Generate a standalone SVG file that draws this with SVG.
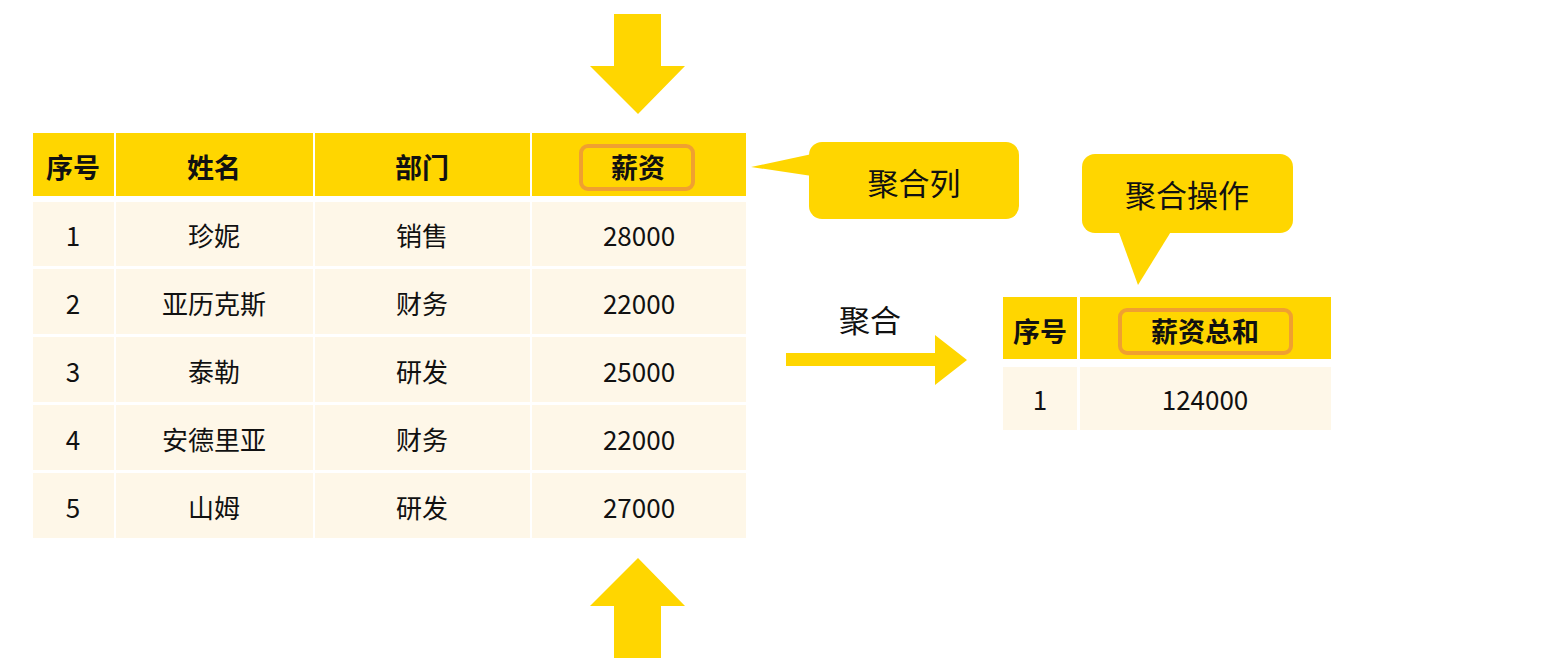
<svg xmlns="http://www.w3.org/2000/svg" width="1560" height="672" viewBox="0 0 1560 672">
<style>
.h{fill:#FFD600}.c{fill:#FEF7E8}
text{font-family:"Noto Sans CJK SC","Liberation Sans",sans-serif;text-anchor:middle;dominant-baseline:central;fill:#111}
.b{font-weight:bold;font-size:27px}.t{font-size:26px}.l{font-size:31px}
.hl{fill:none;stroke:#F0A030;stroke-width:4}
</style>
<rect width="1560" height="672" fill="#fff"/>
<g id="arrows">
<polygon class="h" points="614,14 661,14 661,66 685,66 638,114 590,66 614,66"/>
<polygon class="h" points="614,658 661,658 661,606 685,606 638,558 590,606 614,606"/>
<polygon class="h" points="786,353 935,353 935,335 967,360 935,385 935,366 786,366"/>
<text x="870" y="318" class="l">聚合</text>
</g>
<g id="table1">
<rect class="h" x="33" y="133" width="81" height="63"/><rect class="h" x="116" y="133" width="197" height="63"/><rect class="h" x="315" y="133" width="215" height="63"/><rect class="h" x="532" y="133" width="214" height="63"/>
<text x="73" y="166" class="b">序号</text><text x="214" y="166" class="b">姓名</text><text x="422" y="166" class="b">部门</text><text x="638" y="166" class="b">薪资</text>
<rect class="hl" x="581" y="146" width="112" height="43" rx="7"/>
<g id="rows">
<rect class="c" x="33" y="202" width="81" height="64"/><rect class="c" x="116" y="202" width="197" height="64"/><rect class="c" x="315" y="202" width="215" height="64"/><rect class="c" x="532" y="202" width="214" height="64"/>
<rect class="c" x="33" y="269" width="81" height="65"/><rect class="c" x="116" y="269" width="197" height="65"/><rect class="c" x="315" y="269" width="215" height="65"/><rect class="c" x="532" y="269" width="214" height="65"/>
<rect class="c" x="33" y="337" width="81" height="65"/><rect class="c" x="116" y="337" width="197" height="65"/><rect class="c" x="315" y="337" width="215" height="65"/><rect class="c" x="532" y="337" width="214" height="65"/>
<rect class="c" x="33" y="405" width="81" height="65"/><rect class="c" x="116" y="405" width="197" height="65"/><rect class="c" x="315" y="405" width="215" height="65"/><rect class="c" x="532" y="405" width="214" height="65"/>
<rect class="c" x="33" y="473" width="81" height="65"/><rect class="c" x="116" y="473" width="197" height="65"/><rect class="c" x="315" y="473" width="215" height="65"/><rect class="c" x="532" y="473" width="214" height="65"/>
</g>
<text x="73" y="234" class="t">1</text><text x="214" y="234" class="t">珍妮</text><text x="422" y="234" class="t">销售</text><text x="639" y="234" class="t">28000</text>
<text x="73" y="302" class="t">2</text><text x="214" y="302" class="t">亚历克斯</text><text x="422" y="302" class="t">财务</text><text x="639" y="302" class="t">22000</text>
<text x="73" y="370" class="t">3</text><text x="214" y="370" class="t">泰勒</text><text x="422" y="370" class="t">研发</text><text x="639" y="370" class="t">25000</text>
<text x="73" y="438" class="t">4</text><text x="214" y="438" class="t">安德里亚</text><text x="422" y="438" class="t">财务</text><text x="639" y="438" class="t">22000</text>
<text x="73" y="506" class="t">5</text><text x="214" y="506" class="t">山姆</text><text x="422" y="506" class="t">研发</text><text x="639" y="506" class="t">27000</text>
</g>
<g id="callout1">
<rect class="h" x="809" y="142" width="210" height="77" rx="13"/>
<polygon class="h" points="812,154 751,167 812,176"/>
<text x="914" y="181" class="l">聚合列</text>
</g>
<g id="callout2">
<rect class="h" x="1082" y="154" width="211" height="79" rx="13"/>
<polygon class="h" points="1118,230 1172,230 1138,285"/>
<text x="1187" y="193" class="l">聚合操作</text>
</g>
<g id="table2">
<rect class="h" x="1003" y="297" width="74" height="62"/><rect class="h" x="1080" y="297" width="251" height="62"/>
<text x="1040" y="330" class="b">序号</text><text x="1205" y="330" class="b">薪资总和</text>
<rect class="hl" x="1120" y="310" width="171" height="43" rx="7"/>
<rect class="c" x="1003" y="367" width="74" height="63"/><rect class="c" x="1080" y="367" width="251" height="63"/>
<text x="1040" y="398" class="t">1</text><text x="1205" y="398" class="t">124000</text>
</g>
</svg>
